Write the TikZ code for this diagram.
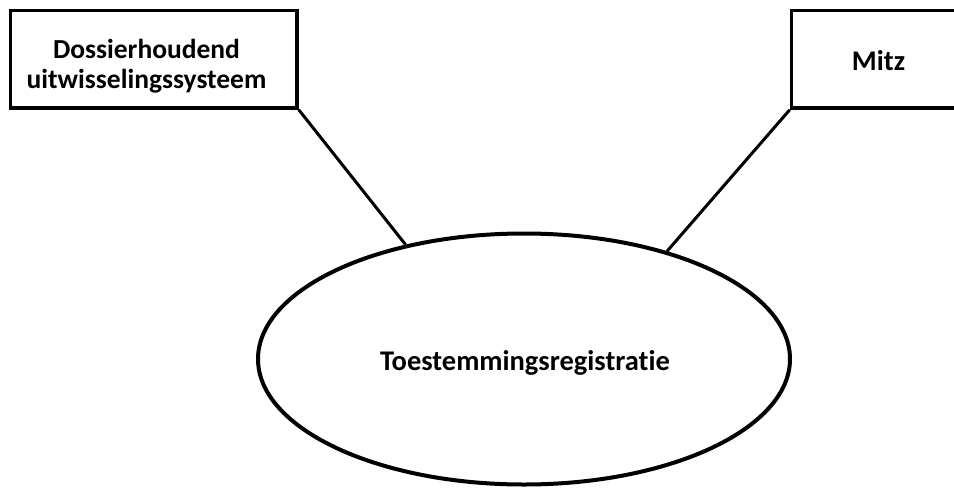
\documentclass[tikz,border=0pt]{standalone}
\usepackage{fontspec}
\setmainfont{Carlito}[Ligatures={NoCommon,NoRequired,NoContextual}, Contextuals=NoAlternate]
\usetikzlibrary{shapes.geometric}
\tikzset{
  boxnode/.style={draw=black, line width=3.5pt, fill=white, rectangle, inner sep=0pt},
  ovalnode/.style={draw=black, line width=4pt, ellipse, inner sep=0pt},
  link/.style={draw=black, line width=3pt},
  lbl/.style={inner sep=0pt, font=\fontsize{28.5}{30}\selectfont\bfseries, align=center, anchor=base},
  lblbig/.style={lbl, font=\fontsize{27.5}{30}\selectfont\bfseries}
}
\begin{document}
\begin{tikzpicture}[x=1pt, y=-1pt]
\useasboundingbox (0,0) rectangle (954,488);
\clip (0,0) rectangle (954,488);
\node[boxnode, minimum width=286.5pt, minimum height=97.5pt] (dos) at (153.75,59.25) {};
\node[lblbig] (dostext) at (146.5,88.3) {Dossierhoudend\\uitwisselingssysteem};
\node[boxnode, minimum width=173pt, minimum height=97.5pt] (mitz) at (878,59.25) {};
\node[lbl] (mitztext) at (878.5,70) {Mitz};
\node[ovalnode, minimum width=532pt, minimum height=251pt] (toe) at (524,359) {};
\node[lbl] (toetext) at (525,370) {Toestemmingsregistratie};
\draw[link] (dos.south east) -- (toe.136.7);
\draw[link] (mitz.south west) -- (toe.37);
\end{tikzpicture}
\end{document}
